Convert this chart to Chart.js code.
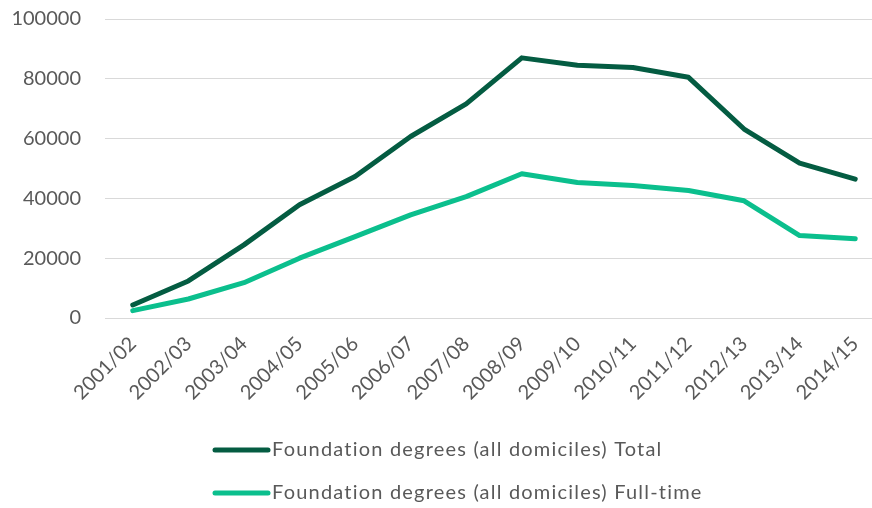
<!DOCTYPE html>
<html>
<head>
<meta charset="utf-8">
<script src="https://cdn.jsdelivr.net/npm/chart.js@4/dist/chart.umd.min.js"></script>
<style>
  html, body { margin: 0; padding: 0; background: #ffffff; overflow: hidden; }
  #wrap { width: 872px; height: 508px; position: relative; overflow: hidden; }
  #c { display: block; }
</style>
</head>
<body>
<div id="wrap"><canvas id="c" width="883" height="508"></canvas></div>
<script>
const categories = ["2001/02","2002/03","2003/04","2004/05","2005/06","2006/07","2007/08","2008/09","2009/10","2010/11","2011/12","2012/13","2013/14","2014/15"];
const totalValues = [4350, 12400, 24450, 37900, 47300, 60700, 71600, 87000, 84500, 83750, 80500, 63200, 51800, 46450];
const fullTimeValues = [2450, 6360, 11800, 20000, 27200, 34500, 40600, 48240, 45300, 44300, 42650, 39200, 27560, 26470];
const seriesLabels = ["Foundation degrees (all domiciles) Total", "Foundation degrees (all domiciles) Full-time"];
const yTicks = [0, 20000, 40000, 60000, 80000, 100000];

const textColor = "#595959";
const fontFamily = "Lato, 'Open Sans', sans-serif";

const legendPlugin = {
  id: "leftLegend",
  afterDraw(chart) {
    const ctx = chart.ctx;
    const rows = [450, 493];
    ctx.save();
    chart.data.datasets.forEach((ds, i) => {
      const y = rows[i];
      ctx.strokeStyle = ds.borderColor;
      ctx.lineWidth = 5;
      ctx.lineCap = "round";
      ctx.beginPath();
      ctx.moveTo(215, y);
      ctx.lineTo(268, y);
      ctx.stroke();
      ctx.fillStyle = textColor;
      ctx.font = "20px " + fontFamily;
      ctx.letterSpacing = "1.2px";
      ctx.textBaseline = "middle";
      ctx.textAlign = "left";
      ctx.fillText(ds.label, 272, y);
    });
    ctx.restore();
  }
};

new Chart(document.getElementById("c"), {
  type: "line",
  data: {
    labels: categories,
    datasets: [
      { label: seriesLabels[0], data: totalValues, borderColor: "#045C42", backgroundColor: "#045C42",
        borderWidth: 5, pointRadius: 0, borderCapStyle: "round", borderJoinStyle: "round", tension: 0 },
      { label: seriesLabels[1], data: fullTimeValues, borderColor: "#0BBF8D", backgroundColor: "#0BBF8D",
        borderWidth: 5, pointRadius: 0, borderCapStyle: "round", borderJoinStyle: "round", tension: 0 }
    ]
  },
  options: {
    responsive: false,
    animation: false,
    devicePixelRatio: 1,
    layout: { padding: { top: 19, right: 0, left: 0, bottom: 0 } },
    plugins: { legend: { display: false }, tooltip: { enabled: false } },
    scales: {
      x: {
        offset: true,
        grid: { display: false },
        border: { display: false },
        ticks: {
          color: textColor, font: { family: fontFamily, size: 20 },
          maxRotation: 45, minRotation: 45, autoSkip: false, padding: 6
        },
        afterFit(s) { s.height = 190; s.paddingLeft = 0; s.paddingRight = 0; s.paddingTop = 0; s.paddingBottom = 0; }
      },
      y: {
        min: 0, max: 100000,
        grid: { color: "#D9D9D9", lineWidth: 1, drawTicks: false },
        border: { display: false },
        afterBuildTicks(s) { s.ticks = yTicks.map(v => ({ value: v })); },
        ticks: {
          color: textColor, font: { family: fontFamily, size: 20 }, padding: 24,
          callback: v => String(v)
        },
        afterFit(s) { s.width = 105; s.paddingTop = 0; s.paddingBottom = 0; s.paddingLeft = 0; s.paddingRight = 0; }
      }
    }
  },
  plugins: [legendPlugin]
});
</script>
</body>
</html>
